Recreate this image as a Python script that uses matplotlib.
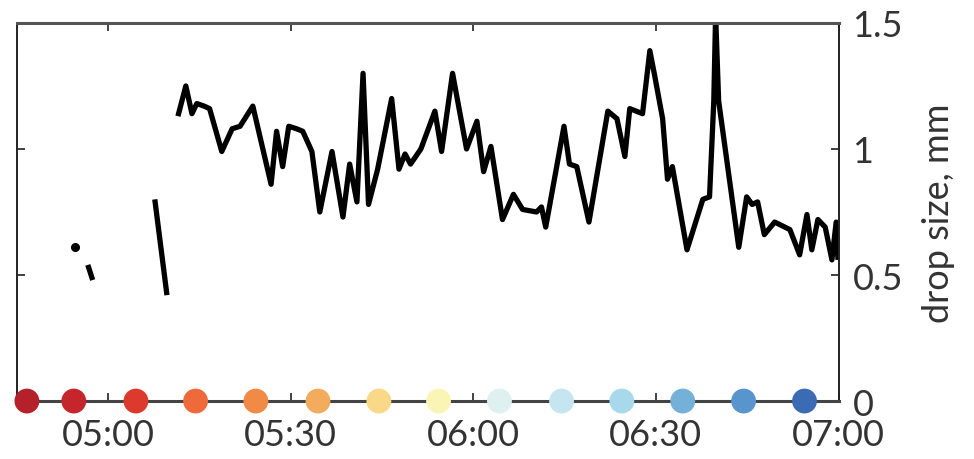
"""Drop size time series with sampling markers along the time axis."""
import numpy as np
import matplotlib
matplotlib.use("Agg")
import matplotlib.pyplot as plt
from matplotlib.ticker import FixedLocator, FuncFormatter

plt.rcParams["font.family"] = ["Lato", "DejaVu Sans"]

# minutes after 05:00 and mean drop size (mm); NaN marks gaps in the record
minutes = [
    -5.4, np.nan,
    -3.3, -2.5, np.nan,
    7.7, 9.7, np.nan,
    11.5, 12.8, 13.8, 14.6, 15.8, 16.7, 18.7, 20.4, 21.7, 23.8,
    26.8, 27.7, 28.7, 29.7, 31.0, 32.0, 33.5, 34.8, 36.8, 38.6,
    39.7, 40.9, 41.9, 42.8, 44.3, 46.6, 47.8, 48.8, 49.7, 51.4,
    53.7, 54.8, 56.6, 58.9, 60.6, 61.7, 62.9, 64.8, 66.6, 68.1,
    70.4, 71.2, 71.9, 74.9, 75.8, 77.0, 79.0, 82.1, 83.6, 84.9,
    85.7, 87.8, 89.0, 89.8, 91.1, 91.9, 92.7, 95.1, 97.7, 98.8,
    99.5, 99.8, 100.3, 103.6, 104.9, 105.8, 106.7, 107.8, 109.5, 112.0,
    113.6, 114.8, 115.6, 116.6, 117.8, 118.9, 119.6, 119.9,
]
drop_mm = [
    0.61, np.nan,
    0.54, 0.48, np.nan,
    0.80, 0.42, np.nan,
    1.13, 1.25, 1.14, 1.18, 1.17, 1.16, 0.99, 1.08, 1.09, 1.17,
    0.86, 1.07, 0.93, 1.09, 1.08, 1.07, 0.99, 0.75, 0.99, 0.73,
    0.94, 0.79, 1.30, 0.78, 0.92, 1.20, 0.92, 0.98, 0.94, 1.00,
    1.15, 0.99, 1.30, 1.00, 1.11, 0.91, 1.01, 0.72, 0.82, 0.76,
    0.75, 0.77, 0.69, 1.09, 0.94, 0.93, 0.71, 1.15, 1.12, 0.97,
    1.16, 1.14, 1.39, 1.29, 1.12, 0.88, 0.93, 0.60, 0.80, 0.81,
    1.19, 1.53, 1.19, 0.61, 0.81, 0.78, 0.79, 0.66, 0.71, 0.68,
    0.58, 0.74, 0.60, 0.72, 0.69, 0.56, 0.71, 0.56,
]

# sampling times (minutes after 05:00) and their colour code
sample_minutes = [-13.3, -5.6, 4.6, 14.4, 24.3, 34.5, 44.5,
                  54.3, 64.3, 74.5, 84.4, 94.4, 104.4, 114.4]
sample_colors = ["#b5212a", "#c4262b", "#dc3a2d", "#ee6a3a", "#f08a45",
                 "#f3ab5d", "#f9d888", "#fbf5b5", "#def0f0", "#c5e6f0",
                 "#a8d8ec", "#74b0d8", "#5795cc", "#3b6bb3"]

x_ticks = [0, 30, 60, 90, 120]
y_ticks = [0, 0.5, 1, 1.5]


def hhmm(m, _pos=None):
    total = int(round(300 + m))
    return f"{total // 60:02d}:{total % 60:02d}"


t = np.asarray(minutes, dtype=float)
d = np.asarray(drop_mm, dtype=float)

fig = plt.figure(figsize=(9.74, 4.6), dpi=100)
ax = fig.add_axes([0.017, 0.126, 0.844, 0.822])

ax.plot(t, d, color="black", lw=3.8, solid_joinstyle="round",
        solid_capstyle="butt", zorder=2)

# samples with no neighbours would vanish from a line plot
prev_nan = np.r_[True, np.isnan(d[:-1])]
next_nan = np.r_[np.isnan(d[1:]), True]
lone = ~np.isnan(d) & prev_nan & next_nan
ax.plot(t[lone], d[lone], "o", color="black", ms=5.5, zorder=2)

ax.scatter(sample_minutes, np.zeros(len(sample_minutes)), s=320,
           c=sample_colors, edgecolors="none", clip_on=False, zorder=4)

ax.set_xlim(-15, 120)
ax.set_ylim(0, 1.5)
ax.xaxis.set_major_locator(FixedLocator(x_ticks))
ax.xaxis.set_major_formatter(FuncFormatter(hhmm))
ax.yaxis.set_major_locator(FixedLocator(y_ticks))
ax.yaxis.set_major_formatter(FuncFormatter(lambda v, _p: f"{v:g}"))

for side in ("left", "right"):
    ax.spines[side].set_color("#222222")
    ax.spines[side].set_linewidth(1.4)
ax.spines["top"].set_color("#555555")
ax.spines["top"].set_linewidth(2.2)
ax.spines["bottom"].set_color("#444444")
ax.spines["bottom"].set_linewidth(2.2)

ax.tick_params(direction="in", length=6, width=1.3, color="#333333",
               top=True, right=True, labelleft=False, labelright=True,
               labelsize=26, labelcolor="#333333")
ax.tick_params(axis="x", pad=12)
ax.tick_params(axis="y", pad=10)

ax.yaxis.set_label_position("right")
ax.set_ylabel("drop size, mm", fontsize=26, color="#333333", labelpad=14)

fig.savefig("out.png", dpi=100)
plt.close(fig)
